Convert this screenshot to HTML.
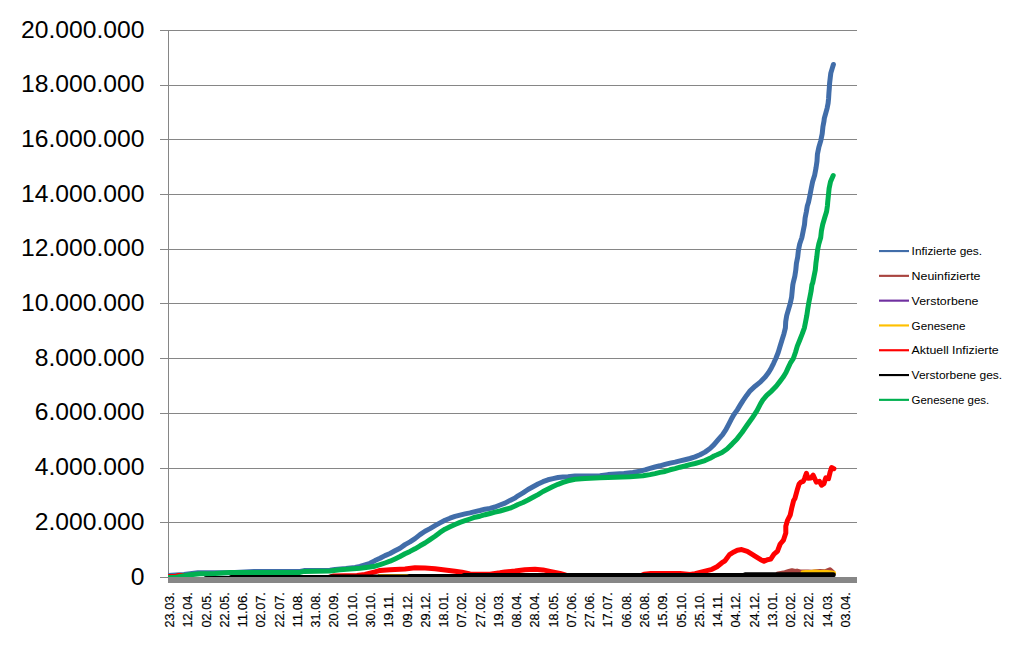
<!DOCTYPE html>
<html><head><meta charset="utf-8"><style>
html,body{margin:0;padding:0;background:#fff;width:1017px;height:655px;overflow:hidden}
svg{display:block}
text{font-family:"Liberation Sans",sans-serif;fill:#000}
.yl{font-size:23.5px}
.xl{font-size:13px;stroke:#000;stroke-width:0.18px}
.lg{font-size:10.8px}
</style></head><body>
<svg width="1017" height="655" viewBox="0 0 1017 655">
<defs><clipPath id="pc"><rect x="168" y="0" width="689" height="577"/></clipPath></defs>
<line x1="160" y1="30.5" x2="857" y2="30.5" stroke="#868686" stroke-width="1"/>
<line x1="160" y1="85.5" x2="857" y2="85.5" stroke="#868686" stroke-width="1"/>
<line x1="160" y1="139.5" x2="857" y2="139.5" stroke="#868686" stroke-width="1"/>
<line x1="160" y1="194.5" x2="857" y2="194.5" stroke="#868686" stroke-width="1"/>
<line x1="160" y1="249.5" x2="857" y2="249.5" stroke="#868686" stroke-width="1"/>
<line x1="160" y1="303.5" x2="857" y2="303.5" stroke="#868686" stroke-width="1"/>
<line x1="160" y1="358.5" x2="857" y2="358.5" stroke="#868686" stroke-width="1"/>
<line x1="160" y1="413.5" x2="857" y2="413.5" stroke="#868686" stroke-width="1"/>
<line x1="160" y1="468.5" x2="857" y2="468.5" stroke="#868686" stroke-width="1"/>
<line x1="160" y1="522.5" x2="857" y2="522.5" stroke="#868686" stroke-width="1"/>
<line x1="160" y1="577.5" x2="857" y2="577.5" stroke="#868686" stroke-width="1"/>
<line x1="168.5" y1="30" x2="168.5" y2="578" stroke="#868686" stroke-width="1"/>
<g transform="translate(144.5,0) scale(1.05,1) translate(-144.5,0)">
<text x="144.5" y="37.6" text-anchor="end" class="yl">20.000.000</text>
<text x="144.5" y="92.3" text-anchor="end" class="yl">18.000.000</text>
<text x="144.5" y="147.0" text-anchor="end" class="yl">16.000.000</text>
<text x="144.5" y="201.7" text-anchor="end" class="yl">14.000.000</text>
<text x="144.5" y="256.4" text-anchor="end" class="yl">12.000.000</text>
<text x="144.5" y="311.1" text-anchor="end" class="yl">10.000.000</text>
<text x="144.5" y="365.8" text-anchor="end" class="yl">8.000.000</text>
<text x="144.5" y="420.5" text-anchor="end" class="yl">6.000.000</text>
<text x="144.5" y="475.2" text-anchor="end" class="yl">4.000.000</text>
<text x="144.5" y="529.9" text-anchor="end" class="yl">2.000.000</text>
<text x="144.5" y="584.6" text-anchor="end" class="yl">0</text>
</g>
<g clip-path="url(#pc)" fill="none" stroke-linejoin="round" stroke-linecap="round">
<polyline points="168.0,575.5 176.0,575.0 184.0,574.5 190.0,573.8 198.0,572.8 230.0,572.7 254.0,571.6 300.0,571.4 304.0,570.6 330.0,570.3 335.0,569.4 346.0,568.6 355.0,567.5 360.0,566.5 365.0,564.9 370.0,563.3 375.0,560.6 380.0,558.3 385.0,555.6 390.0,553.5 395.0,550.8 400.0,548.2 405.0,544.6 410.0,541.9 415.0,538.6 420.0,534.6 425.0,531.2 430.0,528.6 435.0,525.6 440.0,522.9 445.0,520.3 450.0,518.2 455.0,516.4 460.0,515.1 465.0,513.9 470.0,512.9 475.0,511.6 480.0,510.5 485.0,509.2 490.0,508.4 495.0,507.0 500.0,505.0 505.0,503.1 510.0,500.4 515.0,498.0 518.0,495.8 523.0,492.9 528.0,489.5 533.0,486.8 538.0,484.0 543.0,481.7 548.0,479.8 553.0,478.6 558.0,477.5 563.0,477.0 568.0,476.8 575.0,476.0 600.0,475.8 608.0,474.6 624.0,473.5 633.0,472.5 640.0,471.1 645.0,469.9 650.0,468.4 655.0,467.0 660.0,465.8 665.0,464.4 670.0,463.1 675.0,462.1 680.0,460.9 685.0,459.7 690.0,458.5 695.0,456.9 700.0,454.8 705.0,452.1 710.0,448.5 714.0,444.6 718.2,439.6 722.6,434.7 725.9,429.7 728.4,424.8 731.0,419.8 733.8,414.8 737.3,409.9 740.3,404.9 743.0,400.6 746.6,395.4 750.1,390.8 755.1,386.2 760.8,381.6 765.2,377.1 768.6,372.5 771.3,367.9 773.6,363.3 775.8,358.5 778.2,352.5 780.0,346.5 782.0,340.0 783.9,333.9 785.4,327.8 785.7,321.7 786.7,315.6 788.5,309.4 790.3,303.3 791.6,297.2 792.2,291.1 792.8,285.0 793.2,282.9 794.8,276.4 795.8,269.9 796.4,263.4 797.7,256.9 798.4,250.5 799.7,244.0 801.9,237.5 803.2,231.0 804.5,224.5 805.1,218.0 806.4,211.5 807.3,206.0 808.5,202.3 809.9,195.4 811.2,188.6 812.6,181.7 814.7,174.9 816.0,168.0 817.0,161.2 817.4,154.3 818.8,147.4 820.8,140.6 822.2,133.7 822.9,126.9 824.0,121.0 824.3,118.4 825.7,113.3 827.1,108.3 828.1,103.3 828.6,98.2 828.9,93.2 829.3,88.2 829.6,83.2 830.2,78.1 830.8,73.1 832.3,68.1 833.4,64.5" stroke="#416DA9" stroke-width="5"/>
<polyline points="778.0,573.9 785.0,572.7 789.0,571.5 792.0,570.7 795.0,571.5 797.0,571.1 800.0,572.0 803.0,572.1 808.0,572.1 812.0,572.3 816.0,571.8 820.0,571.5 825.0,571.8 830.0,569.8 833.0,572.5" stroke="#A9443F" stroke-width="5"/>
<polyline points="803.0,572.8 806.0,572.5 810.0,572.4 815.0,572.0 820.0,572.5 825.0,572.3 830.0,572.8 833.5,573.2" stroke="#FFC000" stroke-width="5"/>
<polyline points="378.0,576.5 408.0,576.5" stroke="#FFC000" stroke-width="5" stroke-linecap="butt"/>
<polyline points="168.0,576.5 176.0,576.5 178.0,575.5 184.0,575.5 188.0,580.0 320.0,580.0 333.0,576.1 357.0,575.5 365.0,574.5 370.0,573.1 375.0,571.8 380.0,570.4 390.0,569.7 405.0,569.0 415.0,567.8 425.0,568.1 435.0,568.8 445.0,569.9 455.0,571.2 462.0,572.2 470.0,574.0 490.0,574.3 500.0,572.8 505.0,571.9 515.0,571.1 525.0,569.7 535.0,569.3 543.0,569.9 550.0,571.4 560.0,573.4 566.0,575.2 575.0,577.0 638.0,577.0 644.0,574.3 651.0,573.6 680.0,573.6 690.0,574.5 695.0,573.6 703.0,571.6 712.0,569.3 717.0,566.7 722.0,562.7 725.0,560.8 729.5,554.6 733.9,551.9 737.3,550.2 741.7,549.6 747.3,551.3 751.8,554.1 756.2,556.9 760.7,559.7 764.0,561.3 767.4,559.7 770.7,559.1 774.0,554.1 777.4,551.3 780.2,544.0 783.5,540.1 785.8,532.9 785.8,526.2 787.4,520.6 790.2,515.1 791.9,507.3 793.6,500.6 794.9,498.5 797.2,490.1 799.1,484.0 801.0,482.1 803.3,481.3 804.8,477.9 806.4,473.3 807.9,478.3 811.0,477.9 813.2,475.2 814.8,478.7 816.3,482.1 819.4,481.3 821.6,485.2 823.9,483.6 825.8,477.9 828.5,478.7 830.0,472.6 831.6,467.6 833.9,468.7" stroke="#FF0000" stroke-width="5"/>
<polyline points="206.0,578.5 230.0,578.5 231.0,577.5 330.0,577.5 331.0,576.9 408.0,576.9 409.0,576.4 463.0,576.4 464.0,575.4 744.0,575.4 745.0,574.7 833.3,574.7" stroke="#000000" stroke-width="5"/>
<polyline points="168.0,577.5 176.0,577.5 180.0,576.5 190.0,574.8 200.0,573.8 215.0,573.5 230.0,572.5 300.0,572.4 304.0,571.4 330.0,571.0 340.0,569.8 350.0,569.1 360.0,568.2 370.0,567.0 375.0,566.2 380.0,564.7 385.0,563.0 390.0,561.2 395.0,558.9 400.0,556.5 405.0,553.8 410.0,551.4 415.0,548.8 420.0,545.8 425.0,543.0 430.0,539.6 435.0,536.2 440.0,532.4 445.0,529.2 450.0,526.8 455.0,524.5 460.0,522.4 465.0,520.7 470.0,519.0 475.0,517.2 480.0,516.2 485.0,514.7 490.0,513.5 495.0,512.2 500.0,511.0 505.0,509.5 510.0,508.2 515.0,506.0 518.0,504.5 523.0,502.5 528.0,500.0 533.0,497.3 538.0,494.6 543.0,491.5 548.0,489.0 553.0,486.5 558.0,484.3 563.0,482.4 568.0,480.8 575.0,479.2 585.0,478.4 600.0,477.8 608.0,477.5 630.0,476.7 643.0,475.8 650.0,474.6 655.0,473.6 660.0,472.4 665.0,471.5 670.0,469.8 675.0,468.6 680.0,467.2 685.0,466.0 690.0,464.6 695.0,463.5 700.0,462.1 705.0,460.6 710.0,458.3 714.0,456.0 717.0,454.8 722.0,452.5 727.0,449.0 732.0,444.1 737.0,438.9 742.0,432.5 747.0,425.3 752.0,418.3 757.0,410.6 760.6,403.6 762.9,399.9 766.7,395.4 771.8,390.8 776.2,386.2 779.8,381.6 783.2,377.1 786.0,372.5 788.1,367.9 790.3,363.2 793.4,358.3 795.5,352.2 797.3,346.1 799.8,340.0 802.2,333.9 804.4,327.8 805.6,321.7 806.8,315.6 807.7,309.4 808.7,303.3 809.9,297.2 811.1,291.1 811.9,285.0 812.7,282.9 814.0,276.4 815.3,269.9 815.9,263.4 816.8,256.9 817.5,250.5 818.8,244.0 820.7,237.5 821.4,231.0 822.7,224.5 824.6,218.0 826.6,211.5 827.4,206.0 827.7,202.3 828.4,195.4 829.1,188.6 830.5,181.7 833.2,175.6" stroke="#00B050" stroke-width="5"/>
</g>
<rect x="168" y="577" width="689" height="6" fill="#878787"/>
<text transform="translate(174.00,592.2) rotate(-90)" text-anchor="end" class="xl" textLength="35.3" lengthAdjust="spacingAndGlyphs">23.03.</text>
<text transform="translate(192.27,592.2) rotate(-90)" text-anchor="end" class="xl" textLength="35.3" lengthAdjust="spacingAndGlyphs">12.04.</text>
<text transform="translate(210.54,592.2) rotate(-90)" text-anchor="end" class="xl" textLength="35.3" lengthAdjust="spacingAndGlyphs">02.05.</text>
<text transform="translate(228.81,592.2) rotate(-90)" text-anchor="end" class="xl" textLength="35.3" lengthAdjust="spacingAndGlyphs">22.05.</text>
<text transform="translate(247.08,592.2) rotate(-90)" text-anchor="end" class="xl" textLength="35.3" lengthAdjust="spacingAndGlyphs">11.06.</text>
<text transform="translate(265.35,592.2) rotate(-90)" text-anchor="end" class="xl" textLength="35.3" lengthAdjust="spacingAndGlyphs">02.07.</text>
<text transform="translate(283.62,592.2) rotate(-90)" text-anchor="end" class="xl" textLength="35.3" lengthAdjust="spacingAndGlyphs">22.07.</text>
<text transform="translate(301.89,592.2) rotate(-90)" text-anchor="end" class="xl" textLength="35.3" lengthAdjust="spacingAndGlyphs">11.08.</text>
<text transform="translate(320.16,592.2) rotate(-90)" text-anchor="end" class="xl" textLength="35.3" lengthAdjust="spacingAndGlyphs">31.08.</text>
<text transform="translate(338.43,592.2) rotate(-90)" text-anchor="end" class="xl" textLength="35.3" lengthAdjust="spacingAndGlyphs">20.09.</text>
<text transform="translate(356.70,592.2) rotate(-90)" text-anchor="end" class="xl" textLength="35.3" lengthAdjust="spacingAndGlyphs">10.10.</text>
<text transform="translate(374.97,592.2) rotate(-90)" text-anchor="end" class="xl" textLength="35.3" lengthAdjust="spacingAndGlyphs">30.10.</text>
<text transform="translate(393.24,592.2) rotate(-90)" text-anchor="end" class="xl" textLength="35.3" lengthAdjust="spacingAndGlyphs">19.11.</text>
<text transform="translate(411.51,592.2) rotate(-90)" text-anchor="end" class="xl" textLength="35.3" lengthAdjust="spacingAndGlyphs">09.12.</text>
<text transform="translate(429.78,592.2) rotate(-90)" text-anchor="end" class="xl" textLength="35.3" lengthAdjust="spacingAndGlyphs">29.12.</text>
<text transform="translate(448.05,592.2) rotate(-90)" text-anchor="end" class="xl" textLength="35.3" lengthAdjust="spacingAndGlyphs">18.01.</text>
<text transform="translate(466.32,592.2) rotate(-90)" text-anchor="end" class="xl" textLength="35.3" lengthAdjust="spacingAndGlyphs">07.02.</text>
<text transform="translate(484.59,592.2) rotate(-90)" text-anchor="end" class="xl" textLength="35.3" lengthAdjust="spacingAndGlyphs">27.02.</text>
<text transform="translate(502.86,592.2) rotate(-90)" text-anchor="end" class="xl" textLength="35.3" lengthAdjust="spacingAndGlyphs">19.03.</text>
<text transform="translate(521.13,592.2) rotate(-90)" text-anchor="end" class="xl" textLength="35.3" lengthAdjust="spacingAndGlyphs">08.04.</text>
<text transform="translate(539.40,592.2) rotate(-90)" text-anchor="end" class="xl" textLength="35.3" lengthAdjust="spacingAndGlyphs">28.04.</text>
<text transform="translate(557.67,592.2) rotate(-90)" text-anchor="end" class="xl" textLength="35.3" lengthAdjust="spacingAndGlyphs">18.05.</text>
<text transform="translate(575.94,592.2) rotate(-90)" text-anchor="end" class="xl" textLength="35.3" lengthAdjust="spacingAndGlyphs">07.06.</text>
<text transform="translate(594.21,592.2) rotate(-90)" text-anchor="end" class="xl" textLength="35.3" lengthAdjust="spacingAndGlyphs">27.06.</text>
<text transform="translate(612.48,592.2) rotate(-90)" text-anchor="end" class="xl" textLength="35.3" lengthAdjust="spacingAndGlyphs">17.07.</text>
<text transform="translate(630.75,592.2) rotate(-90)" text-anchor="end" class="xl" textLength="35.3" lengthAdjust="spacingAndGlyphs">06.08.</text>
<text transform="translate(649.02,592.2) rotate(-90)" text-anchor="end" class="xl" textLength="35.3" lengthAdjust="spacingAndGlyphs">26.08.</text>
<text transform="translate(667.29,592.2) rotate(-90)" text-anchor="end" class="xl" textLength="35.3" lengthAdjust="spacingAndGlyphs">15.09.</text>
<text transform="translate(685.56,592.2) rotate(-90)" text-anchor="end" class="xl" textLength="35.3" lengthAdjust="spacingAndGlyphs">05.10.</text>
<text transform="translate(703.83,592.2) rotate(-90)" text-anchor="end" class="xl" textLength="35.3" lengthAdjust="spacingAndGlyphs">25.10.</text>
<text transform="translate(722.10,592.2) rotate(-90)" text-anchor="end" class="xl" textLength="35.3" lengthAdjust="spacingAndGlyphs">14.11.</text>
<text transform="translate(740.37,592.2) rotate(-90)" text-anchor="end" class="xl" textLength="35.3" lengthAdjust="spacingAndGlyphs">04.12.</text>
<text transform="translate(758.64,592.2) rotate(-90)" text-anchor="end" class="xl" textLength="35.3" lengthAdjust="spacingAndGlyphs">24.12.</text>
<text transform="translate(776.91,592.2) rotate(-90)" text-anchor="end" class="xl" textLength="35.3" lengthAdjust="spacingAndGlyphs">13.01.</text>
<text transform="translate(795.18,592.2) rotate(-90)" text-anchor="end" class="xl" textLength="35.3" lengthAdjust="spacingAndGlyphs">02.02.</text>
<text transform="translate(813.45,592.2) rotate(-90)" text-anchor="end" class="xl" textLength="35.3" lengthAdjust="spacingAndGlyphs">22.02.</text>
<text transform="translate(831.72,592.2) rotate(-90)" text-anchor="end" class="xl" textLength="35.3" lengthAdjust="spacingAndGlyphs">14.03.</text>
<text transform="translate(849.99,592.2) rotate(-90)" text-anchor="end" class="xl" textLength="35.3" lengthAdjust="spacingAndGlyphs">03.04.</text>
<line x1="879" y1="251.05" x2="909" y2="251.05" stroke="#416DA9" stroke-width="2.15"/>
<text x="911.6" y="254.9" class="lg" textLength="70.5" lengthAdjust="spacingAndGlyphs">Infizierte ges.</text>
<line x1="879" y1="275.85" x2="909" y2="275.85" stroke="#A9443F" stroke-width="2.15"/>
<text x="911.6" y="279.8" class="lg" textLength="68.9" lengthAdjust="spacingAndGlyphs">Neuinfizierte</text>
<line x1="879" y1="300.65" x2="909" y2="300.65" stroke="#7030A0" stroke-width="2.15"/>
<text x="911.6" y="304.6" class="lg" textLength="66.9" lengthAdjust="spacingAndGlyphs">Verstorbene</text>
<line x1="879" y1="325.45" x2="909" y2="325.45" stroke="#FFC000" stroke-width="2.15"/>
<text x="911.6" y="329.5" class="lg" textLength="53.8" lengthAdjust="spacingAndGlyphs">Genesene</text>
<line x1="879" y1="350.25" x2="909" y2="350.25" stroke="#FF0000" stroke-width="2.15"/>
<text x="911.6" y="354.3" class="lg" textLength="87.1" lengthAdjust="spacingAndGlyphs">Aktuell Infizierte</text>
<line x1="879" y1="375.05" x2="909" y2="375.05" stroke="#000000" stroke-width="2.15"/>
<text x="911.6" y="379.1" class="lg" textLength="90.6" lengthAdjust="spacingAndGlyphs">Verstorbene ges.</text>
<line x1="879" y1="399.85" x2="909" y2="399.85" stroke="#00B050" stroke-width="2.15"/>
<text x="911.6" y="404.0" class="lg" textLength="77.6" lengthAdjust="spacingAndGlyphs">Genesene ges.</text>
</svg>
</body></html>
